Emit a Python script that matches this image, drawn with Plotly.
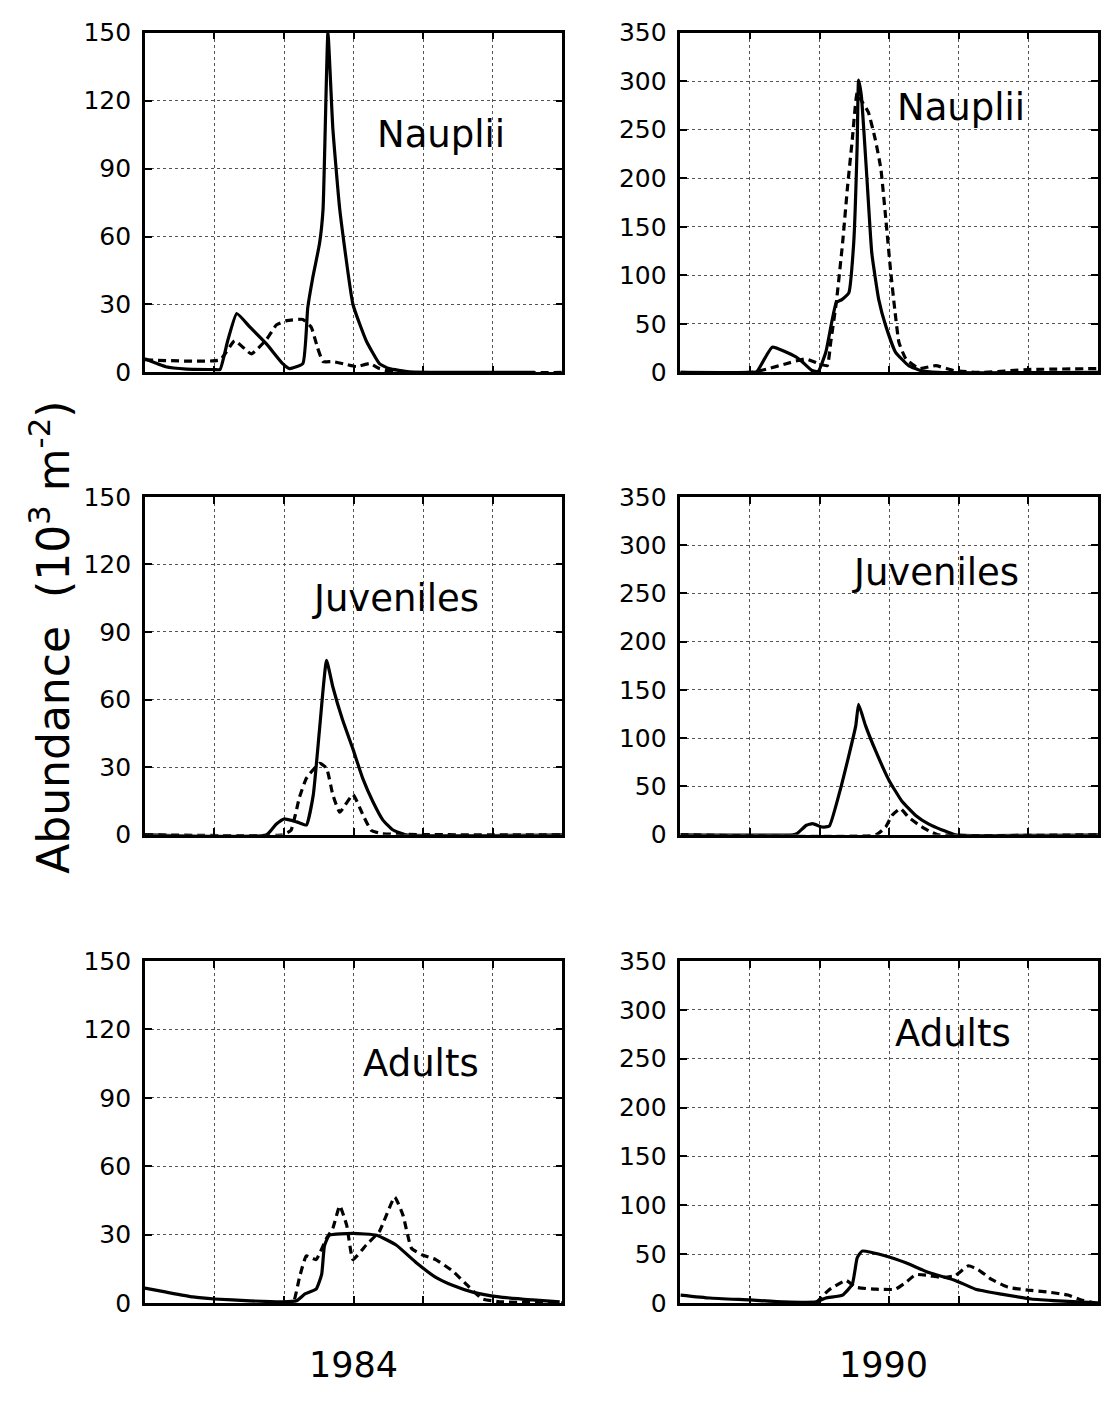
import plotly.graph_objects as go

# ---------------- data ----------------
# x axis: 6 equal intervals (no tick labels in the original)
# 1984 Nauplii
n84_sol_x = [0, 0.3, 0.6, 1.0, 1.08, 1.19, 1.32, 1.51, 1.75, 1.98, 2.08, 2.27, 2.34, 2.41, 2.51, 2.56, 2.63, 2.70, 2.80, 2.99, 3.18, 3.37, 3.51, 3.8, 4.5, 5.6]
n84_sol_y = [6, 2.5, 1.5, 1.3, 1.3, 14, 26, 20, 12.5, 3.9, 1.7, 3.9, 28.5, 41.5, 57, 72, 150, 108, 72, 30, 14, 3.9, 1.7, 0.3, 0, 0]
n84_dash_x = [0, 1.08, 1.29, 1.53, 1.75, 1.89, 2.04, 2.27, 2.39, 2.48, 2.56, 2.70, 2.90, 3.04, 3.23, 3.37, 3.6, 6.0]
n84_dash_y = [5.6, 5.6, 14, 8.2, 14.7, 21, 22.9, 23.4, 20, 11, 4.8, 4.8, 3.5, 2.6, 3.9, 1.7, 0, 0]

# 1990 Nauplii
n90_sol_x = [0, 1.0, 1.10, 1.32, 1.66, 1.75, 1.89, 1.98, 2.09, 2.24, 2.32, 2.42, 2.49, 2.54, 2.56, 2.60, 2.68, 2.75, 2.85, 2.95, 3.09, 3.28, 3.45, 3.7, 6.0]
n90_sol_y = [0, 0, 1, 26, 16, 11, 2, 1, 21, 72, 75, 82, 133, 234, 301, 285, 200, 123, 75, 48, 21, 7, 2, 0, 0]
n90_dash_x = [0, 1.0, 1.1, 1.27, 1.52, 1.80, 1.99, 2.11, 2.16, 2.24, 2.33, 2.40, 2.47, 2.54, 2.60, 2.70, 2.80, 2.88, 2.95, 3.02, 3.08, 3.14, 3.24, 3.43, 3.67, 3.93, 4.3, 5.0, 6.0]
n90_dash_y = [0, 0, 1, 4, 9, 14, 9, 7, 31, 72, 133, 190, 240, 288, 280, 268, 240, 210, 159, 105, 65, 31, 14, 4, 7, 2, 0, 3, 4]

# 1984 Juveniles
j84_sol_x = [0, 1.75, 1.89, 2.0, 2.18, 2.32, 2.42, 2.51, 2.61, 2.70, 2.84, 2.99, 3.13, 3.28, 3.42, 3.56, 3.75, 6.0]
j84_sol_y = [0, 0, 4.8, 7, 5.7, 4.3, 17.8, 47, 77.4, 65.7, 51, 38, 25, 14.4, 6.5, 2.2, 0, 0]
j84_dash_x = [0, 1.98, 2.1, 2.22, 2.32, 2.51, 2.61, 2.70, 2.80, 2.99, 3.13, 3.25, 3.4, 6.0]
j84_dash_y = [0, 0, 2, 16.5, 25, 31.7, 29.6, 17.8, 10, 17.8, 9, 2, 0.5, 0]

# 1990 Juveniles
j90_sol_x = [0, 1.62, 1.68, 1.81, 1.90, 2.04, 2.14, 2.28, 2.42, 2.52, 2.56, 2.66, 2.81, 3.0, 3.18, 3.38, 3.57, 3.76, 3.95, 6.0]
j90_sol_y = [0, 0, 1.4, 9.8, 11.5, 8, 9, 42, 82, 113, 135, 113, 86, 56, 35, 20, 11, 5, 0, 0]
j90_dash_x = [0, 2.81, 2.95, 3.04, 3.16, 3.28, 3.43, 3.57, 3.7, 6.0]
j90_dash_y = [0, 0, 8, 20, 27, 18, 10, 4, 0, 0]

# 1984 Adults
a84_sol_x = [0, 0.31, 0.69, 1.0, 1.51, 1.98, 2.18, 2.30, 2.46, 2.54, 2.58, 2.65, 2.99, 3.33, 3.61, 3.90, 4.18, 4.42, 4.71, 5.09, 5.57, 5.96]
a84_sol_y = [6.5, 4.7, 2.6, 1.7, 0.9, 0.5, 0.9, 3.9, 6, 12.5, 25, 29.7, 30.5, 29.7, 25.4, 17.6, 11.2, 7.7, 4.7, 2.6, 1.3, 0.4]
a84_dash_x = [2.0, 2.13, 2.22, 2.32, 2.46, 2.61, 2.70, 2.80, 2.90, 2.99, 3.18, 3.37, 3.59, 3.71, 3.83, 3.99, 4.18, 4.42, 4.66, 4.85, 5.1, 6.0]
a84_dash_y = [0, 0, 11, 20.6, 19, 28.4, 32.7, 42.6, 34, 19, 25.4, 31.4, 46.4, 38.3, 24, 21, 19, 14, 6.9, 1.7, 0.5, 0]

# 1990 Adults
a90_sol_x = [0, 0.42, 1.0, 1.48, 1.95, 2.09, 2.33, 2.47, 2.54, 2.61, 2.95, 3.24, 3.57, 3.95, 4.24, 4.61, 5.04, 5.43, 6.0]
a90_sol_y = [8, 5, 3, 1, 1, 5, 8, 19, 46, 53, 48, 41, 31, 23, 14, 9, 4, 2, 0]
a90_dash_x = [1.95, 2.13, 2.38, 2.52, 2.81, 3.09, 3.24, 3.38, 3.57, 3.76, 3.95, 4.14, 4.28, 4.47, 4.71, 5.0, 5.29, 5.57, 5.76, 5.95]
a90_dash_y = [0, 13, 23, 16, 14, 14, 21, 29, 28, 26, 28, 38, 34, 24, 16, 13, 11, 8, 3, 0]

stage_labels = ["Nauplii", "Juveniles", "Adults"]
year_labels = ["1984", "1990"]
left_ticks = [0, 30, 60, 90, 120, 150]
right_ticks = [0, 50, 100, 150, 200, 250, 300, 350]
x_grid = [0, 1, 2, 3, 4, 5, 6]

# ---------------- layout geometry ----------------
W, H = 1101, 1407
FONT = "DejaVu Sans"
col_px = [(145, 563), (681, 1099)]
row_px = [(19, 366), (493, 838), (967, 1316)]

panels = [
    (0, 0, n84_sol_x, n84_sol_y, n84_dash_x, n84_dash_y, (4.26, 105)),
    (0, 1, n90_sol_x, n90_sol_y, n90_dash_x, n90_dash_y, (4.03, 273)),
    (1, 0, j84_sol_x, j84_sol_y, j84_dash_x, j84_dash_y, (3.60, 105)),
    (1, 1, j90_sol_x, j90_sol_y, j90_dash_x, j90_dash_y, (3.67, 272)),
    (2, 0, a84_sol_x, a84_sol_y, a84_dash_x, a84_dash_y, (3.97, 105)),
    (2, 1, a90_sol_x, a90_sol_y, a90_dash_x, a90_dash_y, (3.92, 276)),
]

fig = go.Figure()
layout = dict(
    width=W, height=H, margin=dict(l=0, r=0, t=0, b=0),
    paper_bgcolor="white", plot_bgcolor="white", showlegend=False,
    font=dict(family=FONT, color="black"),
)
annotations = []

for i, (r, c, sx, sy, dx, dy, lab) in enumerate(panels):
    k = "" if i == 0 else str(i + 1)
    xa, ya = "x" + k, "y" + k
    fig.add_trace(go.Scatter(x=dx, y=dy, xaxis=xa, yaxis=ya, mode="lines",
                             line=dict(color="black", width=3.2, dash="8px,5px", shape="spline", smoothing=0.4),
                             hoverinfo="skip"))
    fig.add_trace(go.Scatter(x=sx, y=sy, xaxis=xa, yaxis=ya, mode="lines",
                             line=dict(color="black", width=3.2, shape="spline", smoothing=0.4),
                             hoverinfo="skip"))
    x0, x1 = col_px[c]
    y0, y1 = row_px[r]
    ticks = left_ticks if c == 0 else right_ticks
    common = dict(showline=True, linecolor="black", linewidth=2.5, mirror="allticks",
                  ticks="inside", ticklen=7, tickwidth=2, tickcolor="black",
                  showgrid=True, gridcolor="#555", gridwidth=1, griddash="dot",
                  zeroline=False)
    layout["xaxis" + k] = dict(domain=[x0 / W, x1 / W], range=[0, 6], tickvals=x_grid,
                               showticklabels=False, anchor=ya, **common)
    layout["yaxis" + k] = dict(domain=[1 - y1 / H, 1 - y0 / H], range=[0, ticks[-1]],
                               tickvals=ticks, ticktext=[str(t) for t in ticks],
                               tickfont=dict(family=FONT, size=25, color="black"),
                               ticklabelstandoff=6, anchor=xa, **common)
    annotations.append(dict(x=lab[0], y=lab[1], xref=xa, yref=ya, text=stage_labels[r],
                            showarrow=False, xanchor="center", yanchor="middle",
                            font=dict(family=FONT, size=37, color="black")))

# year labels
for txt, cx in zip(year_labels, [354, 884]):
    annotations.append(dict(x=cx / W, y=1 - 1379 / H, xref="paper", yref="paper", text=txt,
                            showarrow=False, xanchor="center", yanchor="middle",
                            font=dict(family=FONT, size=35, color="black")))

# y-axis title
annotations.append(dict(x=50 / W, y=1 - 636 / H, xref="paper", yref="paper",
                        text="Abundance  (10<sup>3</sup> m<sup>-2</sup>)", textangle=-90,
                        showarrow=False, xanchor="center", yanchor="middle",
                        font=dict(family=FONT, size=44, color="black")))

layout["annotations"] = annotations
fig.update_layout(**layout)
fig.write_html("out.html",
               post_script="document.body.style.margin='0';document.body.style.overflow='hidden';")
